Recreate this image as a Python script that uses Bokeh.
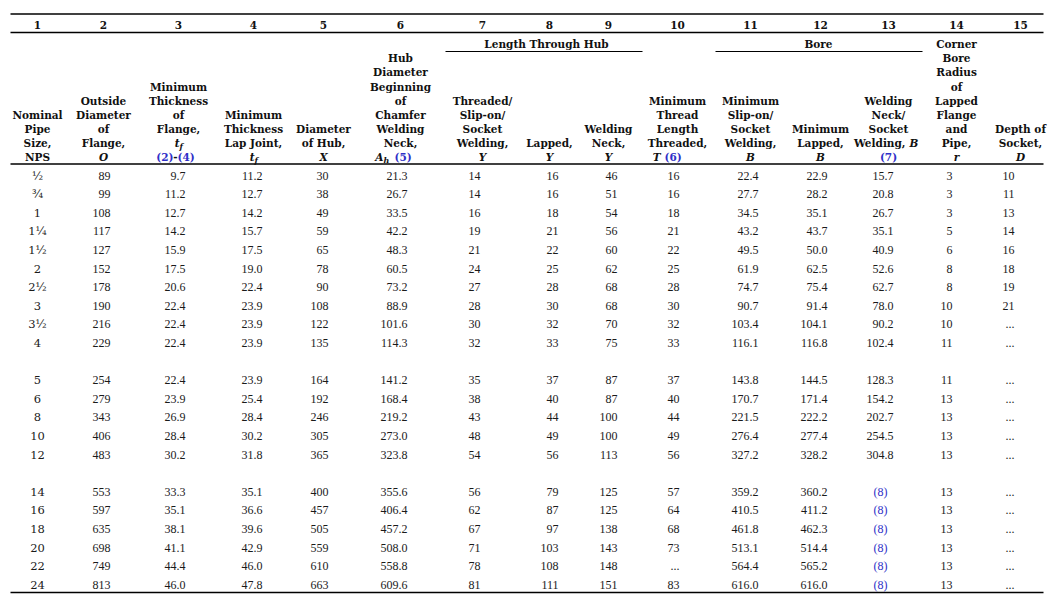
from bokeh.plotting import figure
from bokeh.models import ColumnDataSource, Range1d
from bokeh.core.properties import value
from bokeh.embed import file_html
from bokeh.resources import INLINE

# ---------------- data ----------------
col_numbers = [str(i) for i in range(1, 16)]
nps = ["½", "¾", "1", "1¼", "1½", "2", "2½", "3", "3½", "4",
       "5", "6", "8", "10", "12",
       "14", "16", "18", "20", "22", "24"]
outside_diameter = ["89", "99", "108", "117", "127", "152", "178", "190", "216", "229",
                    "254", "279", "343", "406", "483",
                    "553", "597", "635", "698", "749", "813"]
min_thk_flange = ["9.7", "11.2", "12.7", "14.2", "15.9", "17.5", "20.6", "22.4", "22.4", "22.4",
                  "22.4", "23.9", "26.9", "28.4", "30.2",
                  "33.3", "35.1", "38.1", "41.1", "44.4", "46.0"]
min_thk_lap = ["11.2", "12.7", "14.2", "15.7", "17.5", "19.0", "22.4", "23.9", "23.9", "23.9",
               "23.9", "25.4", "28.4", "30.2", "31.8",
               "35.1", "36.6", "39.6", "42.9", "46.0", "47.8"]
hub_diameter = ["30", "38", "49", "59", "65", "78", "90", "108", "122", "135",
                "164", "192", "246", "305", "365",
                "400", "457", "505", "559", "610", "663"]
hub_chamfer = ["21.3", "26.7", "33.5", "42.2", "48.3", "60.5", "73.2", "88.9", "101.6", "114.3",
               "141.2", "168.4", "219.2", "273.0", "323.8",
               "355.6", "406.4", "457.2", "508.0", "558.8", "609.6"]
len_threaded = ["14", "14", "16", "19", "21", "24", "27", "28", "30", "32",
                "35", "38", "43", "48", "54",
                "56", "62", "67", "71", "78", "81"]
len_lapped = ["16", "16", "18", "21", "22", "25", "28", "30", "32", "33",
              "37", "40", "44", "49", "56",
              "79", "87", "97", "103", "108", "111"]
len_weldneck = ["46", "51", "54", "56", "60", "62", "68", "68", "70", "75",
                "87", "87", "100", "100", "113",
                "125", "125", "138", "143", "148", "151"]
thread_length = ["16", "16", "18", "21", "22", "25", "28", "30", "32", "33",
                 "37", "40", "44", "49", "56",
                 "57", "64", "68", "73", "...", "83"]
bore_slipon = ["22.4", "27.7", "34.5", "43.2", "49.5", "61.9", "74.7", "90.7", "103.4", "116.1",
               "143.8", "170.7", "221.5", "276.4", "327.2",
               "359.2", "410.5", "461.8", "513.1", "564.4", "616.0"]
bore_lapped = ["22.9", "28.2", "35.1", "43.7", "50.0", "62.5", "75.4", "91.4", "104.1", "116.8",
               "144.5", "171.4", "222.2", "277.4", "328.2",
               "360.2", "411.2", "462.3", "514.4", "565.2", "616.0"]
bore_weldneck = ["15.7", "20.8", "26.7", "35.1", "40.9", "52.6", "62.7", "78.0", "90.2", "102.4",
                 "128.3", "154.2", "202.7", "254.5", "304.8",
                 "(8)", "(8)", "(8)", "(8)", "(8)", "(8)"]
corner_radius = ["3", "3", "3", "5", "6", "8", "8", "10", "10", "11",
                 "11", "13", "13", "13", "13",
                 "13", "13", "13", "13", "13", "13"]
socket_depth = ["10", "11", "13", "14", "16", "18", "19", "21", "...", "...",
                "...", "...", "...", "...", "...",
                "...", "...", "...", "...", "...", "..."]
row_slots = [0, 1, 2, 3, 4, 5, 6, 7, 8, 9,
             11, 12, 13, 14, 15,
             17, 18, 19, 20, 21, 22]

# ---------------- layout ----------------
HF = "DejaVu Serif"
DF = "Liberation Serif"
BLUE = "#2f2fc8"
INK = "#111111"
col_cx = [37, 103, 178, 253, 323, 400, 482, 549, 608, 677, 750, 820, 888, 956, 1020]
data_cols = [
    (nps, 37, "center"),
    (outside_diameter, 110, "right"),
    (min_thk_flange, 185, "right"),
    (min_thk_lap, 262, "right"),
    (hub_diameter, 328, "right"),
    (hub_chamfer, 407, "right"),
    (len_threaded, 480, "right"),
    (len_lapped, 558, "right"),
    (len_weldneck, 617, "right"),
    (thread_length, 679, "right"),
    (bore_slipon, 758, "right"),
    (bore_lapped, 827, "right"),
    (bore_weldneck, 893, "right"),
    (corner_radius, 952, "right"),
    (socket_depth, 1014, "right"),
]

items = dict(x=[], y=[], text=[], align=[], font=[], size=[], style=[], color=[])


def add(x, y, text, align="center", font=HF, size="10.5px", style="bold", color=INK):
    items["x"].append(x)
    items["y"].append(y)
    items["text"].append(text)
    items["align"].append(align)
    items["font"].append(font)
    items["size"].append(size)
    items["style"].append(style)
    items["color"].append(color)


# column numbers
for cx, t in zip(col_cx, col_numbers):
    add(cx, 24, t)

# group titles
add(546, 43, "Length Through Hub")
add(818, 43, "Bore")

header_lines = [
    ["Nominal", "Pipe", "Size,", "NPS"],
    ["Outside", "Diameter", "of", "Flange,", "*O"],
    ["Minimum", "Thickness", "of", "Flange,", "#tf", "#ref24"],
    ["Minimum", "Thickness", "Lap Joint,", "#tf"],
    ["Diameter", "of Hub,", "*X"],
    ["Hub", "Diameter", "Beginning", "of", "Chamfer", "Welding", "Neck,", "#Ah"],
    ["Threaded/", "Slip-on/", "Socket", "Welding,", "*Y"],
    ["Lapped,", "*Y"],
    ["Welding", "Neck,", "*Y"],
    ["Minimum", "Thread", "Length", "Threaded,", "#T6"],
    ["Minimum", "Slip-on/", "Socket", "Welding,", "*B"],
    ["Minimum", "Lapped,", "*B"],
    ["Welding", "Neck/", "Socket", "#WB", "#ref7"],
    ["Corner", "Bore", "Radius", "of", "Lapped", "Flange", "and", "Pipe,", "*r"],
    ["Depth of", "Socket,", "*D"],
]
LAST = 156.5
STEP = 14.1
for cx, lines in zip(col_cx, header_lines):
    n = len(lines)
    for k, ln in enumerate(lines):
        y = LAST - (n - 1 - k) * STEP
        if ln.startswith("*"):
            add(cx, y, ln[1:], style="bold italic")
        elif ln == "#tf":
            add(cx + 1, y, "t", align="right", style="bold italic")
            add(cx + 1, y + 3, "f", align="left", size="8px", style="bold italic")
        elif ln == "#ref24":
            add(cx - 5, y, "(2)", align="right", color=BLUE)
            add(cx - 3, y, "-", align="center")
            add(cx - 1, y, "(4)", align="left", color=BLUE)
        elif ln == "#Ah":
            add(cx - 17, y, "A", align="right", style="bold italic")
            add(cx - 17, y + 3, "h", align="left", size="8px", style="bold italic")
            add(cx - 6, y, "(5)", align="left", color=BLUE)
        elif ln == "#T6":
            add(cx - 17, y, "T", align="right", style="bold italic")
            add(cx - 13, y, "(6)", align="left", color=BLUE)
        elif ln == "#WB":
            add(cx + 17, y, "Welding,", align="right")
            add(cx + 21, y, "B", align="left", style="bold italic")
        elif ln == "#ref7":
            add(cx, y, "(7)", color=BLUE)
        else:
            add(cx, y, ln)

# body
ROW0 = 175
ROWSTEP = 18.6
for ci, (vals, ax, al) in enumerate(data_cols):
    for v, slot in zip(vals, row_slots):
        y = ROW0 + slot * ROWSTEP
        if ci == 0:
            add(ax, y, v, align=al, font=HF, size="11.5px", style="normal", color="#1a1a1a")
        elif v == "(8)":
            add(880, y, v, align="center", font=DF, size="12px", style="normal", color=BLUE)
        else:
            add(ax, y, v, align=al, font=DF, size="12px", style="normal", color="#1a1a1a")

# rules
rules = dict(
    x0=[10, 10, 445, 715, 10, 10],
    x1=[1043, 1043, 642, 922, 1043, 1043],
    y=[13.5, 32, 51, 51, 163.5, 592],
    w=[1.5, 1.5, 1.2, 1.2, 1.5, 1.5],
)

# ---------------- figure ----------------
W, H = 1050, 595
p = figure(width=W, height=H, x_range=Range1d(0, W), y_range=Range1d(H, 0),
           output_backend="svg", toolbar_location=None, min_border=0)
p.axis.visible = False
p.grid.visible = False
p.outline_line_color = None
p.background_fill_color = "white"
p.border_fill_color = "white"

rs = ColumnDataSource(rules)
p.segment(x0="x0", y0="y", x1="x1", y1="y", line_width="w", line_color="#000000", source=rs)

src = ColumnDataSource(items)
p.text(x="x", y="y", text="text", text_align="align", text_baseline="middle",
       text_font="font", text_font_size="size", text_font_style="style",
       text_color="color", source=src)

open("out.html", "w").write(file_html(p, INLINE))
